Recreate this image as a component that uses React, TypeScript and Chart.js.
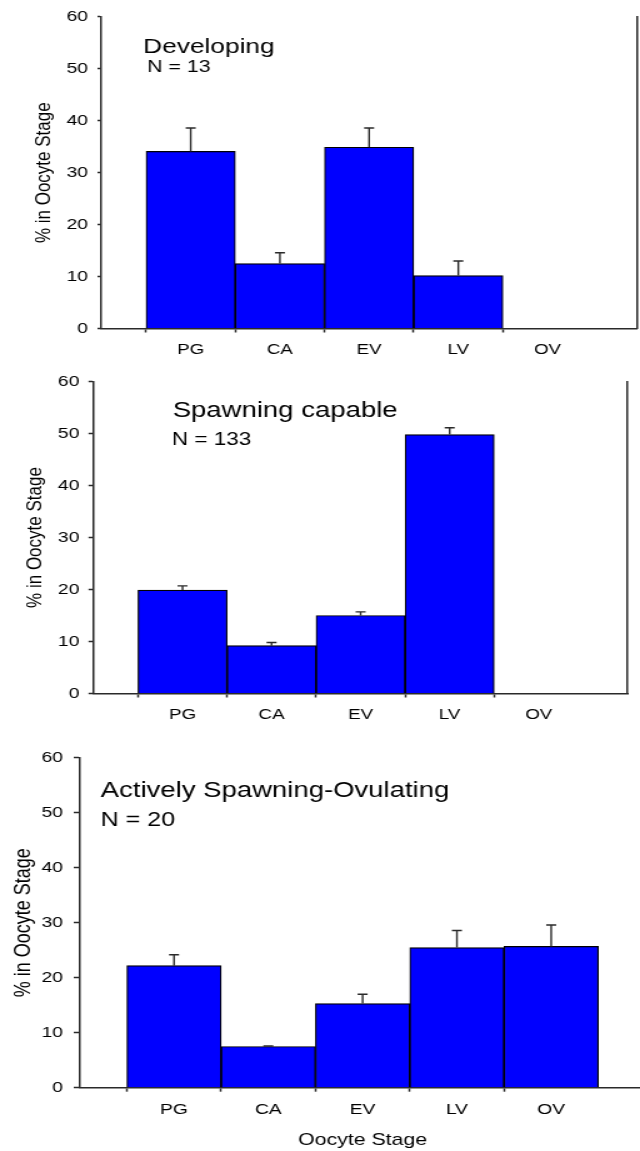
import React, { useEffect, useRef } from 'react';
import { Chart, registerables } from 'chart.js';

Chart.register(...registerables);

// ---------------- data ----------------
const STAGES = ['PG', 'CA', 'EV', 'LV', 'OV'];

const DEVELOPING_MEAN = [34.1, 12.5, 34.9, 10.2, 0];
const DEVELOPING_SE = [4.5, 2.1, 3.7, 2.8, 0];

const CAPABLE_MEAN = [19.9, 9.2, 15.0, 49.8, 0];
const CAPABLE_SE = [0.8, 0.6, 0.7, 1.3, 0];

const ACTIVE_MEAN = [22.2, 7.5, 15.3, 25.5, 25.7];
const ACTIVE_SE = [2.0, 0.1, 1.7, 3.1, 3.9];

const Y_MIN = 0;
const Y_MAX = 60;
const Y_STEP = 10;
const Y_TITLE = '% in Oocyte Stage';
const X_TITLE = 'Oocyte Stage';

// ---------------- style ----------------
const SX = 1.25; // horizontal stretch of the original figure
const FONT = '"Liberation Sans", Arial, Helvetica, sans-serif';
const TEXT = '#000000';
const AXIS = '#2a2a2a';
const BAR = '#0000FF';

type Note = { text: string; x: number; y: number; size: number };
type Panel = {
  top: number;
  height: number;
  width: number;
  yAxisW: number;
  padTop: number;
  padRight: number;
  xAxisH: number;
  yTitleSize: number;
  yTitlePad: number;
  yTickSize: number;
  yTickLen: number;
  yTickPad: number;
  xTickSize: number;
  xTickPad: number;
  rightBorder: boolean;
  xTitle: boolean;
  mean: number[];
  se: number[];
  notes: Note[];
};

const PANELS: Panel[] = [
  {
    top: 0, height: 365, width: 512,
    yAxisW: 81.2, padTop: 14, padRight: 2.6, xAxisH: 36.5,
    yTitleSize: 17, yTitlePad: 25, yTickSize: 15.5, yTickLen: 3.2, yTickPad: 7.6,
    xTickSize: 15, xTickPad: 8.1, rightBorder: true, xTitle: false,
    mean: DEVELOPING_MEAN, se: DEVELOPING_SE,
    notes: [
      { text: 'Developing', x: 114.6, y: 53, size: 21 },
      { text: 'N = 13', x: 117.8, y: 71.7, size: 17 },
    ],
  },
  {
    top: 365, height: 375, width: 512,
    yAxisW: 74.8, padTop: 15.5, padRight: 9.8, xAxisH: 46.5,
    yTitleSize: 17, yTitlePad: 18.6, yTickSize: 15.5, yTickLen: 4, yTickPad: 7.2,
    xTickSize: 15, xTickPad: 8.6, rightBorder: true, xTitle: false,
    mean: CAPABLE_MEAN, se: CAPABLE_SE,
    notes: [
      { text: 'Spawning capable', x: 138.2, y: 51.7, size: 22 },
      { text: 'N = 133', x: 137.4, y: 80, size: 18 },
    ],
  },
  {
    top: 740, height: 411, width: 520,
    yAxisW: 63.8, padTop: 17.7, padRight: 3.6, xAxisH: 63.3,
    yTitleSize: 18, yTitlePad: 8.4, yTickSize: 15.5, yTickLen: 4.8, yTickPad: 8.6,
    xTickSize: 15.5, xTickPad: 8.8, rightBorder: false, xTitle: true,
    mean: ACTIVE_MEAN, se: ACTIVE_SE,
    notes: [
      { text: 'Actively Spawning-Ovulating', x: 80.6, y: 56.7, size: 22 },
      { text: 'N = 20', x: 80.6, y: 86, size: 20 },
    ],
  },
];

function PanelChart({ p }: { p: Panel }) {
  const ref = useRef<HTMLCanvasElement>(null);

  useEffect(() => {
    if (!ref.current) return;
    const labels = ['', ...STAGES, ''];
    const data = [null, ...p.mean, null];
    const se = [0, ...p.se, 0];
    const last = labels.length - 1;

    const errorBars = {
      id: 'errorBars',
      afterDatasetsDraw(chart: any) {
        const meta = chart.getDatasetMeta(0);
        const ys = chart.scales.y;
        const ctx = chart.ctx;
        ctx.save();
        ctx.strokeStyle = AXIS;
        ctx.lineWidth = 1.4;
        meta.data.forEach((el: any, i: number) => {
          const v = data[i];
          const e = se[i];
          if (v == null || !e) return;
          const x = el.x;
          const y0 = ys.getPixelForValue(v);
          const y1 = ys.getPixelForValue(v + e);
          const cap = 4;
          ctx.beginPath();
          ctx.moveTo(x, y0);
          ctx.lineTo(x, y1);
          ctx.moveTo(x - cap, y1);
          ctx.lineTo(x + cap, y1);
          ctx.stroke();
        });
        ctx.restore();
      },
    };

    const notes = {
      id: 'notes',
      afterDraw(chart: any) {
        const ctx = chart.ctx;
        ctx.save();
        ctx.fillStyle = TEXT;
        ctx.textAlign = 'left';
        ctx.textBaseline = 'alphabetic';
        p.notes.forEach((n) => {
          ctx.font = `${n.size}px ${FONT}`;
          ctx.fillText(n.text, n.x, n.y);
        });
        ctx.restore();
      },
    };

    const scales: any = {
      x: {
        type: 'category',
        offset: false,
        grid: {
          display: true,
          drawOnChartArea: false,
          drawTicks: true,
          tickLength: 4,
          tickWidth: 1.5,
          tickColor: (c: any) => (c.index === 0 || c.index === last ? 'rgba(0,0,0,0)' : AXIS),
        },
        border: { display: true, color: AXIS, width: 1.5 },
        ticks: {
          autoSkip: false,
          maxRotation: 0,
          minRotation: 0,
          padding: p.xTickPad,
          color: TEXT,
          font: { family: FONT, size: p.xTickSize },
        },
        title: p.xTitle
          ? {
              display: true,
              text: X_TITLE,
              color: TEXT,
              font: { family: FONT, size: 17 },
              padding: { top: 0, bottom: 0 },
            }
          : { display: false },
        afterFit: (s: any) => {
          s.height = p.xAxisH;
          s.paddingLeft = 0;
          s.paddingRight = 0;
        },
      },
      y: {
        min: Y_MIN,
        max: Y_MAX,
        ticks: {
          stepSize: Y_STEP,
          padding: p.yTickPad,
          color: TEXT,
          font: { family: FONT, size: p.yTickSize },
        },
        grid: {
          display: true,
          drawOnChartArea: false,
          drawTicks: true,
          tickLength: p.yTickLen,
          tickWidth: 1.5,
          tickColor: AXIS,
        },
        border: { display: true, color: AXIS, width: 1.5 },
        title: {
          display: true,
          text: Y_TITLE,
          color: TEXT,
          font: { family: FONT, size: p.yTitleSize },
          padding: { top: p.yTitlePad, bottom: 0 },
        },
        afterFit: (s: any) => {
          s.width = p.yAxisW;
        },
      },
    };
    if (p.rightBorder) {
      scales.y2 = {
        position: 'right',
        min: Y_MIN,
        max: Y_MAX,
        grid: { display: false },
        ticks: { display: false },
        border: { display: true, color: AXIS, width: 1.5 },
        afterFit: (s: any) => {
          s.width = 0;
        },
      };
    }

    const chart = new Chart(ref.current, {
      type: 'bar',
      data: {
        labels,
        datasets: [
          {
            data: data as any,
            backgroundColor: BAR,
            borderColor: '#000000',
            borderWidth: 1.2,
            categoryPercentage: 1,
            barPercentage: 1,
          },
        ],
      },
      options: {
        animation: false,
        responsive: false,
        maintainAspectRatio: false,
        layout: { padding: { top: p.padTop, right: p.padRight, left: 0, bottom: 0 } },
        plugins: {
          legend: { display: false },
          tooltip: { enabled: false },
          title: { display: false },
        },
        scales,
      },
      plugins: [errorBars, notes],
    });
    return () => chart.destroy();
  }, [p]);

  return (
    <div
      style={{
        position: 'absolute',
        left: 0,
        top: p.top,
        width: p.width,
        height: p.height,
        transform: `scaleX(${SX})`,
        transformOrigin: '0 0',
      }}
    >
      <canvas
        ref={ref}
        width={p.width}
        height={p.height}
        style={{ display: 'block', width: p.width, height: p.height }}
      />
    </div>
  );
}

export default function App() {
  return (
    <div
      style={{
        position: 'absolute',
        left: 0,
        top: 0,
        width: 640,
        height: 1151,
        overflow: 'hidden',
        background: '#ffffff',
      }}
    >
      {PANELS.map((p, i) => (
        <PanelChart key={i} p={p} />
      ))}
    </div>
  );
}
